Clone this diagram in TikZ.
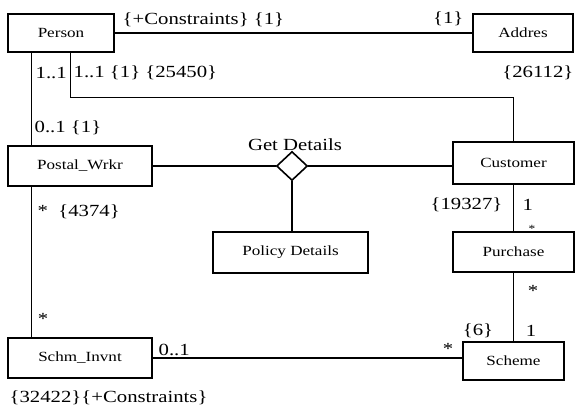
\documentclass[tikz,border=0pt]{standalone}
\usepackage{fontspec}
\setmainfont{Liberation Serif}
\newfontfamily\umlfont[FakeStretch=1.22]{Liberation Serif}
\usetikzlibrary{shapes.geometric}

\begin{document}
\begin{tikzpicture}[x=1pt, y=-1pt, line width=1.3pt,
  umlbox/.style={draw, line width=1.6pt, inner sep=0pt, font=\umlfont\fontsize{14}{16}\selectfont},
  mult/.style={inner sep=0pt, font=\umlfont\fontsize{17}{19}\selectfont}]
  \useasboundingbox (0,0) rectangle (575,413);
  % classes
  \node[umlbox, minimum width=106pt, minimum height=38pt] (person) at (61,33) {Person};
  \node[umlbox, minimum width=100pt, minimum height=38pt] (addres) at (523,33) {Addres};
  \node[umlbox, minimum width=144pt, minimum height=40pt] (postal) at (80,166) {Postal\_Wrkr};
  \node[umlbox, minimum width=121pt, minimum height=42pt] (customer) at (513.5,163) {Customer};
  \node[umlbox, minimum width=155pt, minimum height=41pt] (policy) at (290.5,252.5) {Policy Details};
  \node[umlbox, minimum width=121pt, minimum height=40pt] (purchase) at (513.5,252) {Purchase};
  \node[umlbox, minimum width=144pt, minimum height=40pt] (schm) at (80,358) {Schm\_Invnt};
  \node[umlbox, minimum width=101pt, minimum height=38pt] (scheme) at (513.5,361) {Scheme};
  \node[draw, diamond, line width=1.6pt, inner sep=0pt, minimum width=31pt, minimum height=29pt] (getdet) at (292,166) {};
  % associations
  \draw (person) -- (addres);
  \draw ([xshift=24pt]person.south west) -- ([xshift=24pt]postal.north west);
  \draw ([xshift=63pt]person.south west) -- ++(0,45) -| (customer.north);
  \draw (postal.east) -- (getdet.west);
  \draw (getdet.east) -- (getdet.east -| customer.west);
  \draw (getdet.south) -- (getdet.south |- policy.north);
  \draw (customer) -- (purchase);
  \draw (purchase) -- (scheme);
  \draw ([xshift=24pt]postal.south west) -- ([xshift=24pt]schm.north west);
  \draw (schm.east) -- (schm.east -| scheme.west);
  % multiplicities and constraints
  \node[mult, anchor=west] (m1) at (122,20) {\{+Constraints\} \{1\}};
  \node[mult, anchor=east] (m2) at (464,19) {\{1\}};
  \node[mult, anchor=east] (m3) at (574,73) {\{26112\}};
  \node[mult, anchor=west] (m4) at (35,73) {1..1};
  \node[mult, anchor=west] (m5) at (73,73) {1..1 \{1\} \{25450\}};
  \node[mult, anchor=west] (m6) at (34,128) {0..1 \{1\}};
  \node[mult] (m7) at (295,145) {Get Details};
  \node[mult, anchor=west] (m8) at (37,212) {*~~\{4374\}};
  \node[mult, anchor=east] (m9) at (503,205) {\{19327\}};
  \node[mult, anchor=west] (m10) at (522,205) {1};
  \node[mult, font=\umlfont\fontsize{11}{12}\selectfont] (m11) at (532,229) {*};
  \node[mult] (m12) at (533,291) {*};
  \node[mult] (m13) at (478,331) {\{6\}};
  \node[mult] (m14) at (531,331) {1};
  \node[mult] (m15) at (448,349) {*};
  \node[mult, anchor=west] (m16) at (158,350) {0..1};
  \node[mult] (m17) at (43,319) {*};
  \node[mult, anchor=west] (m18) at (9,398) {\{32422\}\{+Constraints\}};
\end{tikzpicture}
\end{document}
